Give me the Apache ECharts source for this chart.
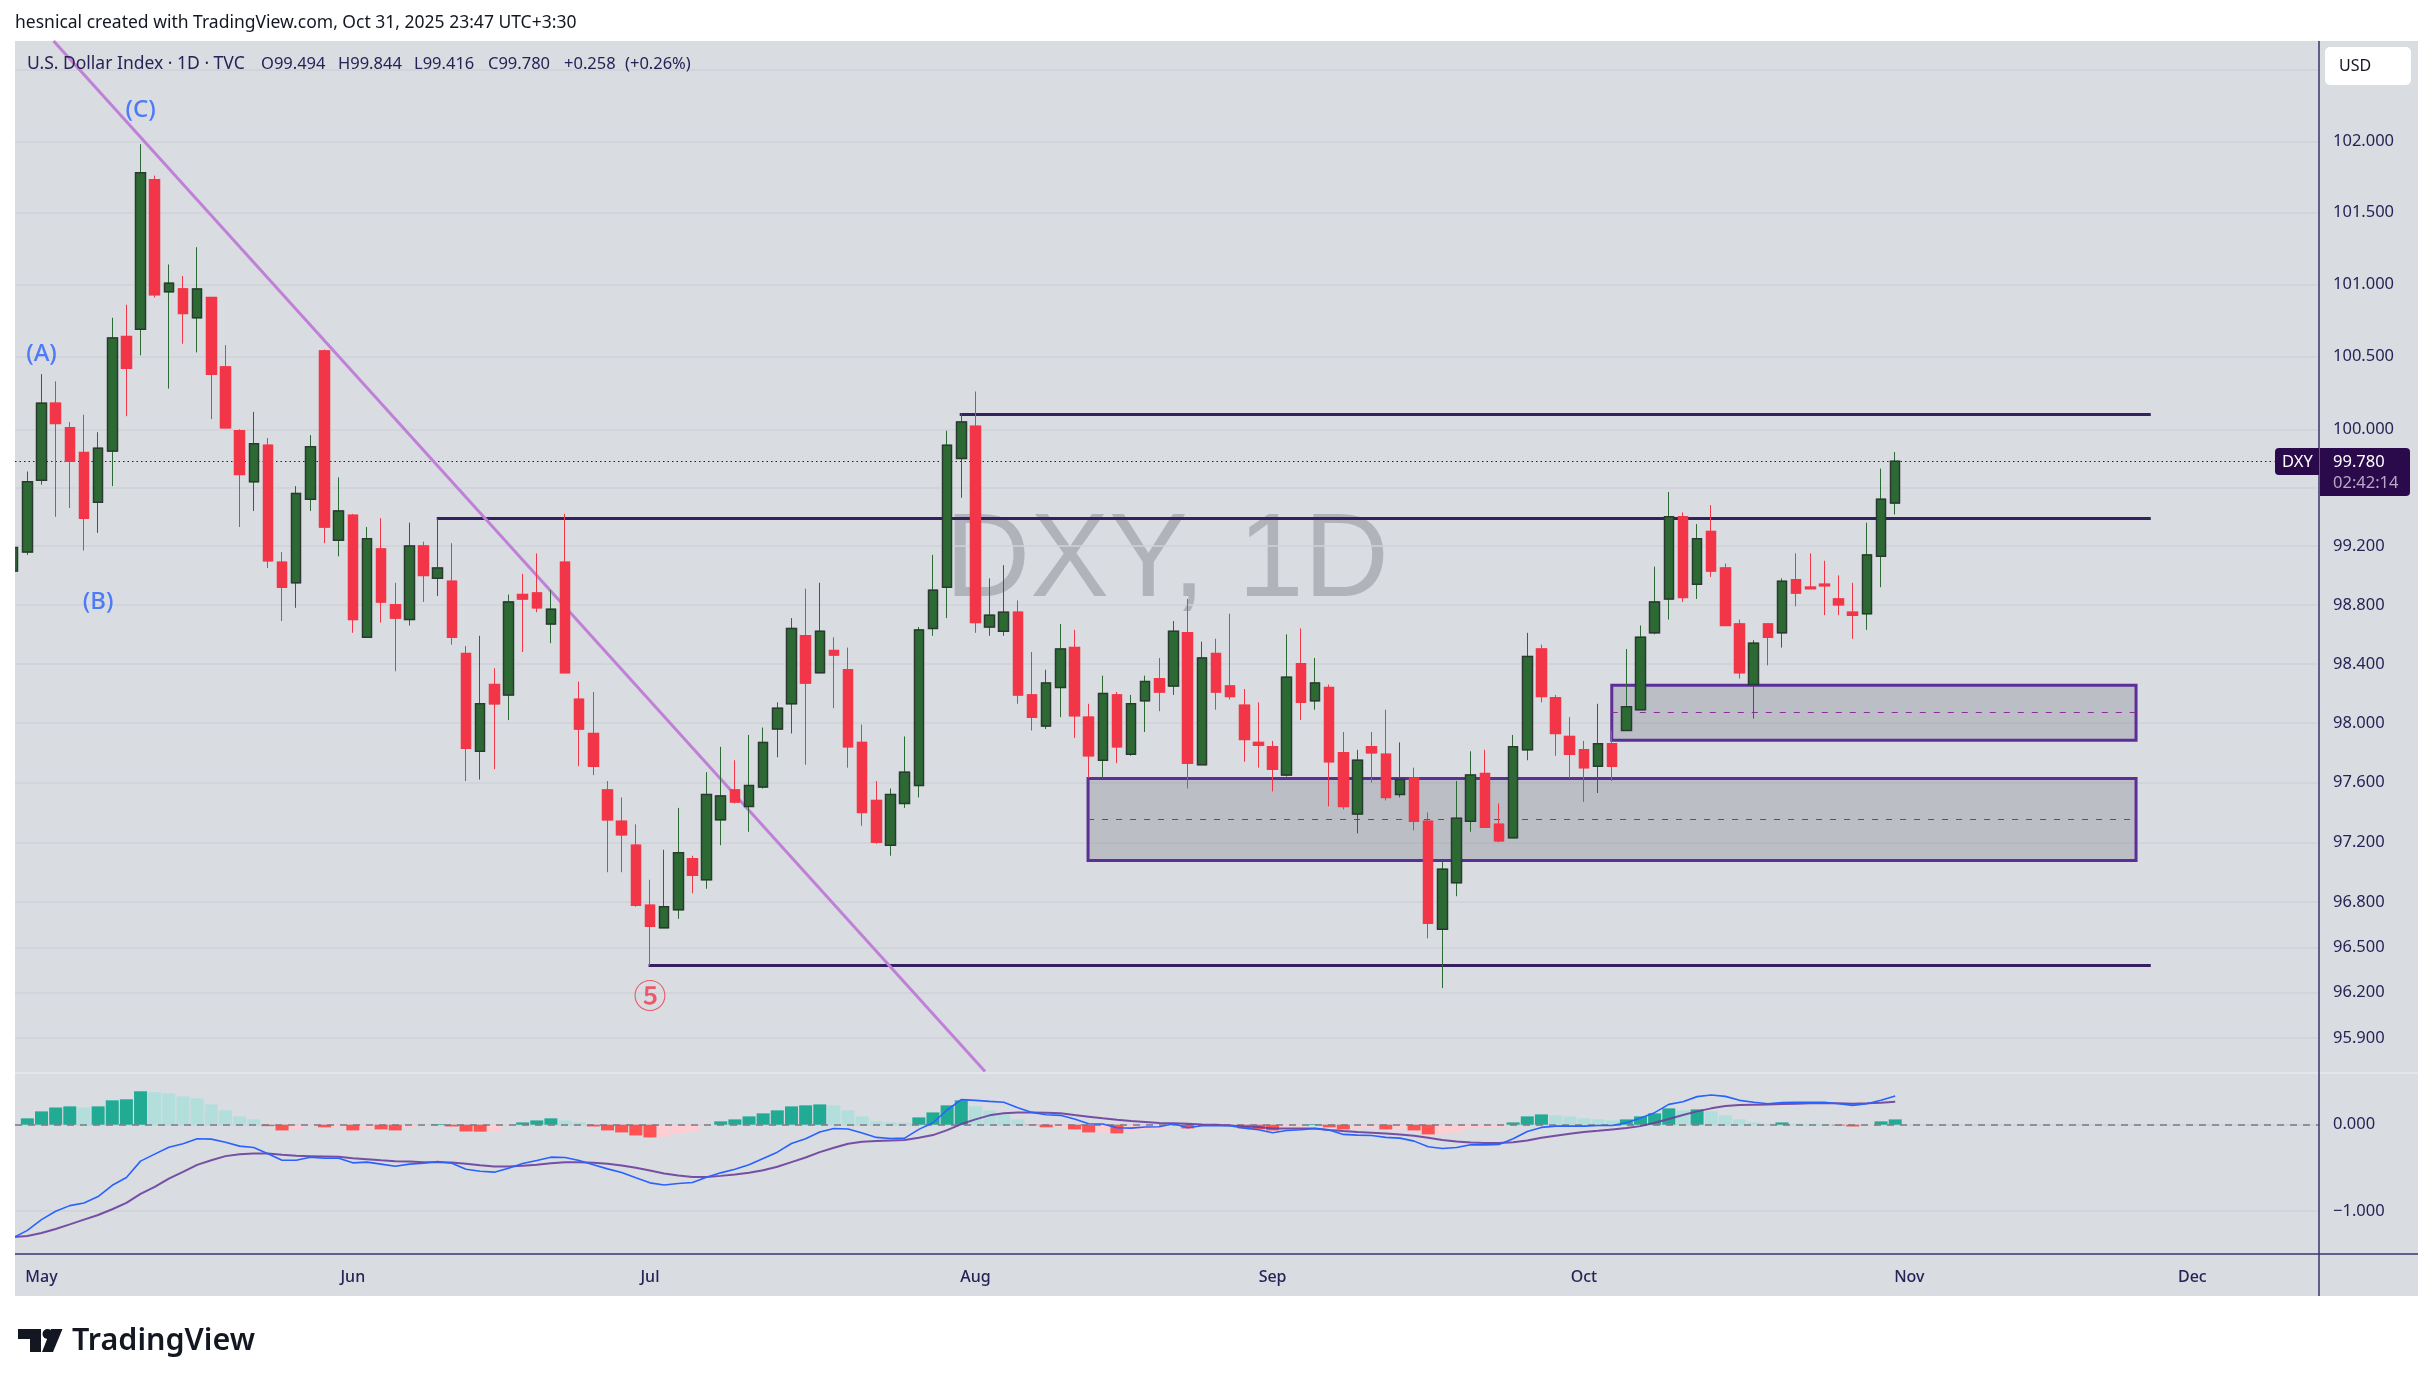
<!DOCTYPE html>
<html>
<head>
<meta charset="utf-8">
<title>DXY 1D</title>
<script src="https://cdn.jsdelivr.net/npm/echarts@6/dist/echarts.min.js"></script>
<style>
html, body { margin: 0; padding: 0; background: #fff; }
#container { width: 2433px; height: 1386px; }
</style>
</head>
<body>
<div id="container"></div>
<script>
// bar 0 of the x axis is 1 May 2025, one step per trading day
var firstBar = -2;
var opens = [
  99.03,99.16,99.65,100.18,100.01,99.84,99.50,99.85,100.64,100.69,
  101.73,100.95,100.97,100.77,100.91,100.43,99.99,99.64,99.89,99.09,
  98.95,99.52,100.54,99.24,99.41,98.58,99.18,98.80,98.70,99.20,
  98.98,98.96,98.47,97.81,98.26,98.19,98.87,98.88,98.67,99.09,
  98.16,97.93,97.55,97.34,97.18,96.78,96.63,96.75,97.09,96.95,
  97.35,97.55,97.44,97.57,97.96,98.13,98.59,98.34,98.49,98.36,
  97.87,97.48,97.18,97.46,97.58,98.64,98.92,99.80,100.02,98.65,
  98.62,98.75,98.19,97.98,98.24,98.51,98.04,97.75,98.19,97.79,
  98.15,98.30,98.25,98.61,97.72,98.47,98.25,98.12,97.87,97.84,
  97.65,98.40,98.15,98.24,97.80,97.39,97.84,97.79,97.52,97.63,
  97.34,96.62,96.93,97.34,97.66,97.32,97.23,97.82,98.50,98.17,
  97.91,97.82,97.71,97.86,97.95,98.09,98.61,98.84,99.40,98.94,
  99.30,99.05,98.67,98.26,98.67,98.61,98.97,98.92,98.94,98.84,
  98.75,98.74,99.13,99.494
];
var closes = [
  99.19,99.64,100.18,100.04,99.78,99.39,99.87,100.63,100.42,101.78,
  100.93,101.01,100.80,100.97,100.38,100.01,99.69,99.90,99.10,98.92,
  99.56,99.88,99.33,99.44,98.70,99.25,98.82,98.71,99.20,99.00,
  99.05,98.58,97.83,98.13,98.13,98.82,98.84,98.78,98.77,98.34,
  97.96,97.71,97.35,97.25,96.78,96.64,96.77,97.13,96.98,97.52,
  97.51,97.47,97.58,97.87,98.10,98.64,98.27,98.62,98.46,97.84,
  97.40,97.20,97.52,97.67,98.63,98.90,99.89,100.05,98.68,98.73,
  98.75,98.19,98.04,98.27,98.50,98.05,97.78,98.20,97.84,98.13,
  98.28,98.21,98.62,97.73,98.44,98.21,98.18,97.89,97.85,97.69,
  98.31,98.14,98.27,97.74,97.44,97.75,97.80,97.50,97.62,97.34,
  96.66,97.02,97.36,97.65,97.30,97.21,97.84,98.45,98.18,97.93,
  97.79,97.70,97.86,97.71,98.11,98.58,98.82,99.40,98.85,99.25,
  99.03,98.66,98.34,98.54,98.58,98.96,98.88,98.91,98.93,98.80,
  98.73,99.14,99.52,99.78
];
var lows = [
  98.95,99.14,99.62,99.40,99.46,99.17,99.29,99.61,100.09,100.51,
  100.91,100.28,100.59,100.53,100.07,100.01,99.33,99.44,99.05,98.69,
  98.78,99.44,99.22,99.13,98.61,98.58,98.68,98.35,98.66,98.82,
  98.86,98.53,97.61,97.62,97.69,98.02,98.48,98.75,98.54,98.34,
  97.71,97.65,97.00,97.00,96.77,96.38,96.63,96.69,96.86,96.89,
  97.18,97.46,97.27,97.56,97.77,97.93,97.72,98.34,98.10,97.70,
  97.31,97.19,97.11,97.43,97.50,98.59,98.71,99.53,98.61,98.59,
  98.59,98.13,97.95,97.96,98.04,97.90,97.63,97.63,97.73,97.78,
  97.94,98.08,98.19,97.56,97.72,98.09,98.16,97.74,97.70,97.54,
  97.64,98.02,98.09,97.44,97.42,97.26,97.60,97.48,97.50,97.28,
  96.56,96.23,96.84,97.27,97.30,97.20,97.23,97.75,98.14,97.78,
  97.63,97.47,97.53,97.61,97.95,98.09,98.60,98.70,98.82,98.84,
  98.99,98.66,98.30,98.03,98.39,98.51,98.79,98.91,98.73,98.73,
  98.57,98.63,98.92,99.416
];
var highs = [
  99.25,99.71,100.38,100.33,100.05,100.10,99.98,100.77,100.86,101.98,
  101.76,101.14,101.06,101.26,100.91,100.58,100.00,100.12,99.94,99.16,
  99.61,99.96,100.55,99.67,99.42,99.33,99.39,98.95,99.36,99.23,
  99.39,99.22,98.52,98.59,98.37,98.87,99.01,99.15,98.90,99.42,
  98.28,98.21,97.61,97.50,97.32,96.95,97.15,97.43,97.11,97.67,
  97.84,97.75,97.92,97.97,98.14,98.71,98.91,98.95,98.58,98.51,
  97.99,97.61,97.56,97.91,98.65,99.14,99.99,100.11,100.26,98.98,
  99.07,98.83,98.48,98.36,98.67,98.63,98.13,98.32,98.21,98.19,
  98.32,98.44,98.69,98.84,98.55,98.57,98.74,98.23,98.14,97.88,
  98.60,98.64,98.44,98.26,97.94,97.82,97.94,98.09,97.87,97.70,
  97.40,97.07,97.61,97.81,97.82,97.46,97.92,98.61,98.53,98.19,
  98.04,97.88,98.13,97.95,98.50,98.66,99.06,99.57,99.43,99.35,
  99.48,99.08,98.70,98.56,98.67,98.98,99.15,99.15,99.10,99.00,
  98.95,99.36,99.73,99.844
];
var macdHist = [
  null,0.074,0.155,0.2,0.213,0.2,0.213,0.283,0.295,0.388,
  0.376,0.364,0.329,0.306,0.236,0.167,0.097,0.062,-0.016,-0.066,
  -0.054,-0.016,-0.03,-0.028,-0.066,-0.043,-0.054,-0.066,-0.03,-0.016,
  0.008,-0.02,-0.078,-0.08,-0.076,-0.012,0.027,0.05,0.074,0.05,
  0.027,-0.02,-0.066,-0.089,-0.124,-0.147,-0.136,-0.1,-0.078,-0.012,
  0.039,0.062,0.097,0.132,0.167,0.213,0.225,0.236,0.225,0.167,
  0.097,0.039,0.027,0.023,0.085,0.143,0.225,0.283,0.213,0.167,
  0.12,0.062,-0.004,-0.03,-0.028,-0.054,-0.089,-0.087,-0.1,-0.078,
  -0.054,-0.052,-0.012,-0.043,-0.008,-0.007,-0.006,-0.043,-0.054,-0.066,
  -0.023,-0.021,0.008,-0.03,-0.054,-0.043,-0.041,-0.054,-0.052,-0.066,
  -0.112,-0.11,-0.089,-0.043,-0.03,-0.028,0.027,0.097,0.12,0.109,
  0.097,0.074,0.062,0.05,0.062,0.097,0.132,0.19,0.167,0.178,
  0.155,0.109,0.062,0.027,0.012,0.027,0.012,0.011,0.008,-0.008,
  -0.02,-0.008,0.039,0.062
];
var macdLine = [
  -1.31,-1.225,-1.1,-1.004,-0.938,-0.907,-0.833,-0.702,-0.612,-0.422,
  -0.341,-0.26,-0.221,-0.163,-0.167,-0.202,-0.248,-0.264,-0.337,-0.411,
  -0.411,-0.376,-0.388,-0.388,-0.442,-0.434,-0.457,-0.481,-0.457,-0.446,
  -0.426,-0.446,-0.516,-0.539,-0.55,-0.504,-0.45,-0.415,-0.376,-0.38,
  -0.415,-0.465,-0.512,-0.554,-0.616,-0.674,-0.698,-0.682,-0.67,-0.609,
  -0.558,-0.516,-0.465,-0.391,-0.318,-0.217,-0.163,-0.085,-0.043,-0.05,
  -0.097,-0.147,-0.159,-0.155,-0.054,0.023,0.171,0.291,0.283,0.271,
  0.26,0.198,0.143,0.116,0.109,0.066,0.012,0.008,-0.035,-0.039,
  -0.027,-0.023,0.012,-0.035,-0.012,-0.012,-0.012,-0.039,-0.058,-0.093,
  -0.066,-0.058,-0.043,-0.062,-0.112,-0.12,-0.124,-0.147,-0.155,-0.19,
  -0.256,-0.275,-0.264,-0.233,-0.233,-0.229,-0.163,-0.078,-0.031,-0.016,
  -0.016,-0.016,-0.008,-0.008,0.023,0.078,0.14,0.236,0.267,0.326,
  0.345,0.329,0.283,0.26,0.244,0.256,0.26,0.26,0.26,0.244,
  0.225,0.244,0.283,0.333
];
var signalLine = [
  -1.302,-1.29,-1.256,-1.209,-1.155,-1.1,-1.047,-0.98,-0.907,-0.802,
  -0.721,-0.624,-0.547,-0.465,-0.411,-0.364,-0.341,-0.333,-0.333,-0.349,
  -0.36,-0.364,-0.368,-0.372,-0.388,-0.399,-0.411,-0.422,-0.426,-0.434,
  -0.434,-0.438,-0.453,-0.469,-0.484,-0.484,-0.477,-0.465,-0.446,-0.434,
  -0.434,-0.442,-0.453,-0.473,-0.5,-0.531,-0.566,-0.589,-0.605,-0.605,
  -0.593,-0.578,-0.558,-0.527,-0.488,-0.434,-0.38,-0.318,-0.267,-0.221,
  -0.198,-0.19,-0.182,-0.178,-0.151,-0.12,-0.062,0.008,0.062,0.109,
  0.132,0.143,0.143,0.14,0.132,0.112,0.093,0.074,0.058,0.043,
  0.031,0.019,0.016,0.012,0.004,0,-0.008,-0.019,-0.027,-0.043,
  -0.043,-0.043,-0.043,-0.062,-0.074,-0.085,-0.093,-0.101,-0.112,-0.128,
  -0.151,-0.178,-0.194,-0.205,-0.213,-0.213,-0.202,-0.182,-0.151,-0.128,
  -0.105,-0.085,-0.07,-0.054,-0.039,-0.016,0.023,0.066,0.112,0.155,
  0.19,0.217,0.229,0.233,0.236,0.24,0.244,0.248,0.248,0.248,
  0.244,0.248,0.256,0.267
];

var priceTicks = [102.5,102,101.5,101,100.5,100,99.6,99.2,98.8,98.4,98,97.6,97.2,96.8,96.5,96.2,95.9];
var macdTicks = [0, -1];
var monthBars = [0,22,43,66,87,109,132,152];
var monthLabels = ['May','Jun','Jul','Aug','Sep','Oct','Nov','Dec'];

// drawings: [start bar, end bar, price]
var levels = [[64.89,149.06,100.102],[27.93,149.06,99.389],[42.9,149.06,96.38]];
// zones: [start bar, end bar, top, bottom, middle]
var zones = [[110.97,148.02,98.256,97.885,98.073],[73.96,148.02,97.628,97.079,97.354]];
var trendBars = [0.855,66.68];
var trendPrices = [102.706,95.68];
var lastPrice = 99.78;
var lastPriceEndBar = 157.8;
// wave labels: [bar, price, text]
var waveLabels = [[0,100.52,'(A)'],[4,98.82,'(B)'],[7,102.22,'(C)']];
var circledLabels = [[43,96.18,'⑤']];
var ohlcLegend = [
  ['U.S. Dollar Index · 1D · TVC',27,17.5],['O99.494',261,16.5],['H99.844',338,16.5],['L99.416',414,16.5],
  ['C99.780',488,16.5],['+0.258',564,16.5],['(+0.26%)',625,16.5]
];

var NAVY = '#2a2157';
var FONT = '"Noto Sans", sans-serif';
var barIds = opens.map(function (v, i) { return i + firstBar; });
var xMin = -1.873, xMax = 160.95;

function histColor(i) {
  var v = macdHist[i], prev = macdHist[i - 1];
  if (prev == null) prev = 0;
  if (v >= 0) return v > prev ? '#22ab94' : '#b2dfdb';
  return v > prev ? '#ffcdd2' : '#ff5252';
}
function zipBars(values) {
  return values.map(function (v, i) { return [barIds[i], v]; });
}
var zoneAreas = zones.map(function (z) {
  return [{ coord: [z[0], z[2]] }, { coord: [z[1], z[3]] }];
});
var lineMarks = levels.map(function (l) {
  return [{ coord: [l[0], l[2]], lineStyle: { color: '#352060', width: 3, type: 'solid' } }, { coord: [l[1], l[2]] }];
}).concat(zones.map(function (z) {
  return [{ coord: [z[0], z[4]], lineStyle: { color: '#8e2c9e', width: 1.2, type: [6, 8] } }, { coord: [z[1], z[4]] }];
})).concat([[
  { coord: [xMin, lastPrice], lineStyle: { color: '#2a1050', width: 1, type: [1.5, 3] } },
  { coord: [lastPriceEndBar, lastPrice] }
]]);

var dom = document.getElementById('container');
var myChart = echarts.init(dom);

function txt(text, x, y, size, color, extra) {
  var style = { text: text, x: x, y: y, fontSize: size, fontFamily: FONT, fill: color, verticalAlign: 'middle' };
  for (var k in (extra || {})) style[k] = extra[k];
  return { type: 'text', z: 100, silent: true, style: style };
}
function rule(x1, y1, x2, y2, color, w, z) {
  return { type: 'line', z: z || 50, silent: true, shape: { x1: x1, y1: y1, x2: x2, y2: y2 }, style: { stroke: color, lineWidth: w } };
}
var LOGO = '#131722';
var graphics = [
  { type: 'rect', z: -20, silent: true, shape: { x: 15, y: 41, width: 2403, height: 1255 }, style: { fill: '#d9dce1' } },
  { type: 'text', z: -10, silent: true, style: { text: 'DXY, 1D', x: 1167, y: 563, align: 'center', verticalAlign: 'middle', fontSize: 118, fontFamily: '"Liberation Sans", sans-serif', fill: 'rgba(120,123,134,0.42)' } },
  // white strip: the first candle is cut by the left edge of the plot
  { type: 'rect', z: 90, silent: true, shape: { x: 0, y: 41, width: 15, height: 1255 }, style: { fill: '#ffffff' } },
  rule(15, 1073, 2418, 1073, '#e8eaee', 1.5),
  rule(15, 1254, 2418, 1254, '#3b3468', 1.5),
  rule(2319, 41, 2319, 1296, '#3b3468', 1.5),
  txt('hesnical created with TradingView.com, Oct 31, 2025 23:47 UTC+3:30', 15, 23, 17.5, '#131722'),
  { type: 'rect', z: 99, silent: true, shape: { x: 2325, y: 47, width: 86, height: 38, r: 5 }, style: { fill: '#fff' } },
  txt('USD', 2339, 66, 16, '#131722'),
  { type: 'rect', z: 99, silent: true, shape: { x: 2275, y: 448, width: 44, height: 27, r: [4, 0, 0, 4] }, style: { fill: '#2a0a4a' } },
  { type: 'rect', z: 99, silent: true, shape: { x: 2320, y: 448, width: 90, height: 48, r: [0, 4, 4, 0] }, style: { fill: '#2a0a4a' } },
  txt('DXY', 2282, 462, 16.5, '#ffffff'),
  txt('99.780', 2333, 462, 16.5, '#ffffff'),
  txt('02:42:14', 2333, 483, 16.5, '#b9a9c6'),
  { type: 'polygon', z: 100, silent: true, shape: { points: [[18,1329],[41,1329],[41,1352],[30,1352],[30,1339],[18,1339]] }, style: { fill: LOGO } },
  { type: 'circle', z: 100, silent: true, shape: { cx: 47.5, cy: 1334, r: 5 }, style: { fill: LOGO } },
  { type: 'polygon', z: 100, silent: true, shape: { points: [[51,1329],[62.5,1329],[53,1352],[42,1352]] }, style: { fill: LOGO } },
  txt('TradingView', 72, 1341, 30.5, LOGO, { fontWeight: 600 })
].concat(ohlcLegend.map(function (s) {
  return txt(s[0], s[1], 64, s[2], NAVY);
}));

var option = {
  animation: false,
  backgroundColor: '#ffffff',
  graphic: graphics,
  grid: [
    { left: 15, top: 41, width: 2304, height: 1032 },
    { left: 15, top: 1073, width: 2304, height: 181 }
  ],
  xAxis: [
    { type: 'value', gridIndex: 0, min: xMin, max: xMax, axisLine: { show: false }, axisTick: { show: false }, axisLabel: { show: false }, splitLine: { show: false } },
    {
      type: 'value', gridIndex: 1, min: xMin, max: xMax, axisLine: { show: false },
      axisTick: { show: false, customValues: monthBars },
      splitLine: { show: false },
      axisLabel: {
        customValues: monthBars, margin: 15, color: NAVY, fontFamily: FONT, fontSize: 16, fontWeight: 500,
        hideOverlap: false, showMinLabel: true, showMaxLabel: true,
        formatter: function (v) { return monthLabels[monthBars.indexOf(v)]; }
      }
    }
  ],
  yAxis: [
    {
      type: 'log', gridIndex: 0, position: 'right', min: 95.67, max: 102.706,
      axisLine: { show: false },
      axisTick: { show: false, customValues: priceTicks },
      splitLine: { show: true, lineStyle: { color: '#cfd2d8', width: 1.5 } },
      axisLabel: {
        customValues: priceTicks, margin: 14, color: NAVY, fontFamily: FONT, fontSize: 16.5, padding: [3, 0, 0, 0],
        formatter: function (v) { return v === 102.5 ? '' : v.toFixed(3); }
      }
    },
    {
      type: 'value', gridIndex: 1, position: 'right', min: -1.499, max: 0.6,
      axisLine: { show: false },
      axisTick: { show: false, customValues: macdTicks },
      splitLine: { show: true, lineStyle: { color: '#cfd2d8', width: 1.5 } },
      axisLabel: {
        customValues: macdTicks, margin: 14, color: NAVY, fontFamily: FONT, fontSize: 16.5, padding: [3, 0, 0, 0],
        formatter: function (v) { return v.toFixed(3).replace('-', '−'); }
      }
    }
  ],
  series: [
    {
      name: 'Drawings', type: 'line', xAxisIndex: 0, yAxisIndex: 0, z: 2, silent: true,
      data: trendBars.map(function (b, i) { return [b, trendPrices[i]]; }),
      showSymbol: false, symbol: 'none',
      lineStyle: { color: '#c080d8', width: 3 },
      markArea: {
        silent: true, z: 1,
        itemStyle: { color: 'rgba(120,123,134,0.3)', borderColor: '#5b2f96', borderWidth: 3 },
        data: zoneAreas
      },
      markLine: {
        silent: true, z: 2, symbol: 'none', label: { show: false }, animation: false,
        data: lineMarks
      }
    },
    {
      name: 'DXY', type: 'candlestick', xAxisIndex: 0, yAxisIndex: 0, z: 5, barWidth: 10, silent: true,
      data: barIds.map(function (b, i) { return [b, opens[i], closes[i], lows[i], highs[i]]; }),
      itemStyle: { color: '#2d6a33', color0: '#f23648', borderColor: '#2d6a33', borderColor0: '#f23648', borderWidth: 1 }
    },
    {
      // dark outline on the rising bodies, wicks stay green from the series above
      name: 'DXY bodies', type: 'candlestick', xAxisIndex: 0, yAxisIndex: 0, z: 6, barWidth: 10, silent: true,
      data: barIds.map(function (b, i) {
        return [b, opens[i], closes[i], Math.min(opens[i], closes[i]), Math.max(opens[i], closes[i])];
      }),
      itemStyle: { color: '#2d6a33', color0: '#f23648', borderColor: '#2a3a30', borderColor0: '#f23648', borderWidth: 1.5 }
    },
    {
      name: 'Waves', type: 'scatter', xAxisIndex: 0, yAxisIndex: 0, z: 8, symbolSize: 0, silent: true,
      data: waveLabels.map(function (w) { return { value: [w[0], w[1]], name: w[2] }; }),
      label: { show: true, position: 'inside', formatter: '{b}', color: '#2962ff', fontSize: 24, fontWeight: 500, fontFamily: FONT }
    },
    {
      name: 'Wave 5', type: 'scatter', xAxisIndex: 0, yAxisIndex: 0, z: 8, symbolSize: 0, silent: true,
      data: circledLabels.map(function (w) { return { value: [w[0], w[1]], name: w[2] }; }),
      label: { show: true, position: 'inside', formatter: '{b}', color: '#f23648', fontSize: 33, fontWeight: 500, fontFamily: '"Noto Sans CJK SC", sans-serif' }
    },
    {
      name: 'Histogram', type: 'bar', xAxisIndex: 1, yAxisIndex: 1, z: 2, barWidth: 13, silent: true,
      data: macdHist.map(function (v, i) {
        return { value: [barIds[i], v], itemStyle: { color: histColor(i) } };
      }),
      markLine: {
        silent: true, z: 3, symbol: 'none', label: { show: false }, animation: false,
        lineStyle: { color: '#787b86', width: 1.5, type: [7, 6] },
        data: [{ yAxis: 0 }]
      }
    },
    {
      name: 'Signal', type: 'line', xAxisIndex: 1, yAxisIndex: 1, z: 4, silent: true, showSymbol: false, symbol: 'none',
      data: zipBars(signalLine), lineStyle: { color: '#6a3f9c', width: 2, opacity: 0.9 }
    },
    {
      name: 'MACD', type: 'line', xAxisIndex: 1, yAxisIndex: 1, z: 5, silent: true, showSymbol: false, symbol: 'none',
      data: zipBars(macdLine), lineStyle: { color: '#2962ff', width: 1.6 }
    }
  ]
};
myChart.setOption(option, true);
</script>
</body>
</html>
